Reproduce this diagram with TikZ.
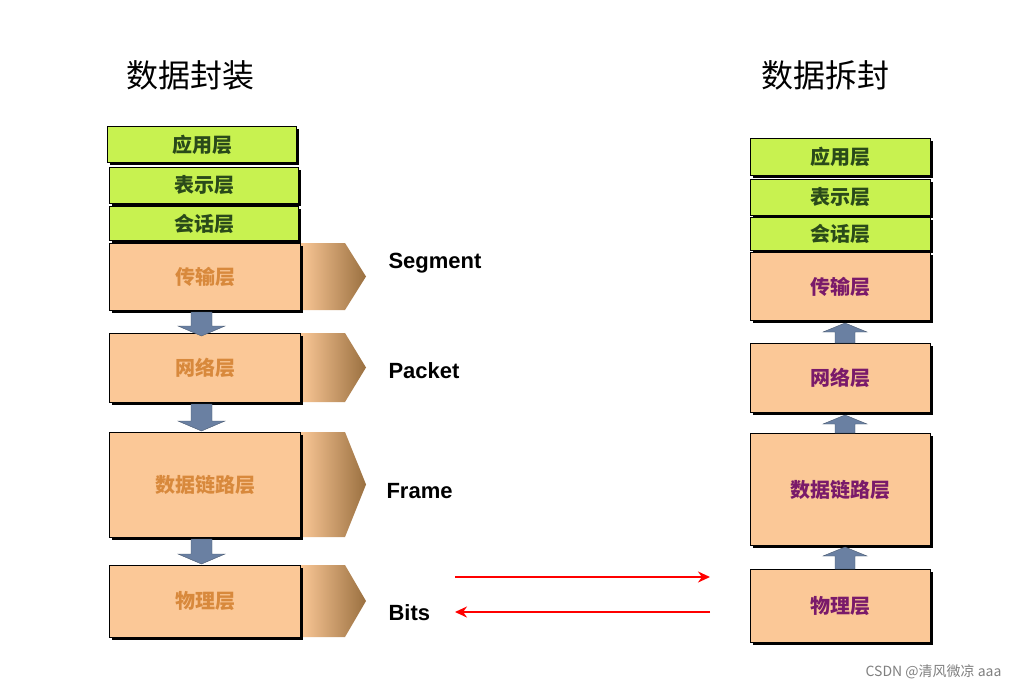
\documentclass[tikz,border=0pt]{standalone}
\usepackage{fontspec}
\setmainfont{Liberation Sans}
\newfontfamily\cjk{Noto Sans CJK SC}
\usetikzlibrary{shadows,arrows.meta}
\definecolor{lgreen}{HTML}{C8F250}
\definecolor{peach}{HTML}{FBC897}
\definecolor{tabbrown}{HTML}{9A7040}
\definecolor{ltxt}{HTML}{D8893C}
\definecolor{rtxt}{HTML}{7A1A6A}
\definecolor{gtxt}{HTML}{2A4A1A}
\definecolor{barr}{HTML}{6A80A2}
\begin{document}
\begin{tikzpicture}[x=1pt,y=-1pt,
  lay/.style={draw=black,line width=1pt,anchor=north west,inner sep=0pt,
    drop shadow={shadow xshift=2.5pt,shadow yshift=-2.5pt,fill=black,opacity=1},
    font=\cjk\bfseries\fontsize{20}{22}\selectfont},
  g/.style={lay,fill=lgreen,text=gtxt},
  pl/.style={lay,fill=peach,text=ltxt},
  pr/.style={lay,fill=peach,text=rtxt},
  tab/.style={left color=peach,right color=tabbrown},
  lbl/.style={anchor=west,font=\bfseries\fontsize{22}{24}\selectfont},
  ttl/.style={font=\cjk\fontsize{32}{36}\selectfont},
  barrow/.style={fill=barr,draw=barr!70!black,line width=0.4pt},
  redarr/.style={draw=red,line width=2.2pt,-{Stealth[length=12pt,width=11pt]}}]
\useasboundingbox (0,0) rectangle (1014,691);
\fill[white] (0,0) rectangle (1014,691);
\node[ttl] (t1) at (190,75) {数据封装};
\node[ttl] (t2) at (825,75) {数据拆封};
% tabs
\foreach \a/\b in {243/310,333/402,432/537,565/637}{
  \path[tab] (300,\a) -- (345,\a) -- (366,{(\a+\b)/2}) -- (345,\b) -- (300,\b) -- cycle;}
% left stack
\node[g,minimum width=189pt,minimum height=36pt] (la) at (107,126) {应用层};
\node[g,minimum width=189pt,minimum height=36pt] (lp) at (109,167) {表示层};
\node[g,minimum width=189pt,minimum height=34pt] (ls) at (109,206) {会话层};
\node[pl,minimum width=191pt,minimum height=67pt] (lt) at (109,243) {传输层};
\node[pl,minimum width=191pt,minimum height=69pt] (ln) at (109,333) {网络层};
\node[pl,minimum width=191pt,minimum height=105pt] (ld) at (109,432) {数据链路层};
\node[pl,minimum width=191pt,minimum height=72pt] (lh) at (109,565) {物理层};
% down arrows
\foreach \t/\h in {312/336,404/431,539/564}{
  \draw[barrow] (191,\t) -- (212,\t) -- (212,\h-10) -- (225,\h-10) -- (201.5,\h) -- (178,\h-10) -- (191,\h-10) -- cycle;}
\node[lbl] (seg) at (385,263) {Segment};
\node[lbl] (pac) at (385,371) {Packet};
\node[lbl] (fra) at (383,491) {Frame};
\node[lbl] (bit) at (385,613) {Bits};
% right stack
\node[g,minimum width=180pt,minimum height=37pt] (ra) at (750,138) {应用层};
\node[g,minimum width=180pt,minimum height=36pt] (rp) at (750,179) {表示层};
\node[g,minimum width=180pt,minimum height=33pt] (rs) at (750,217) {会话层};
\node[pr,minimum width=180pt,minimum height=68pt] (rt) at (750,252) {传输层};
\node[pr,minimum width=180pt,minimum height=69pt] (rn) at (750,343) {网络层};
\node[pr,minimum width=180pt,minimum height=112pt] (rd) at (750,433) {数据链路层};
\node[pr,minimum width=180pt,minimum height=73pt] (rh) at (750,569) {物理层};
% up arrows
\foreach \h/\t in {323/343,415/433,547/569}{
  \draw[barrow] (835,\t) -- (855,\t) -- (855,\h+9) -- (867,\h+9) -- (845,\h) -- (823,\h+9) -- (835,\h+9) -- cycle;}
% red arrows
\coordinate (r1) at (455,577); \coordinate (r2) at (710,577);
\coordinate (r3) at (710,612); \coordinate (r4) at (455,612);
\draw[redarr] (r1) -- (r2);
\draw[redarr] (r3) -- (r4);
\node[anchor=east,text=gray,font=\cjk\fontsize{14}{16}\selectfont] (wm) at (1005,672) {CSDN @清风微凉 aaa};
\end{tikzpicture}
\end{document}
